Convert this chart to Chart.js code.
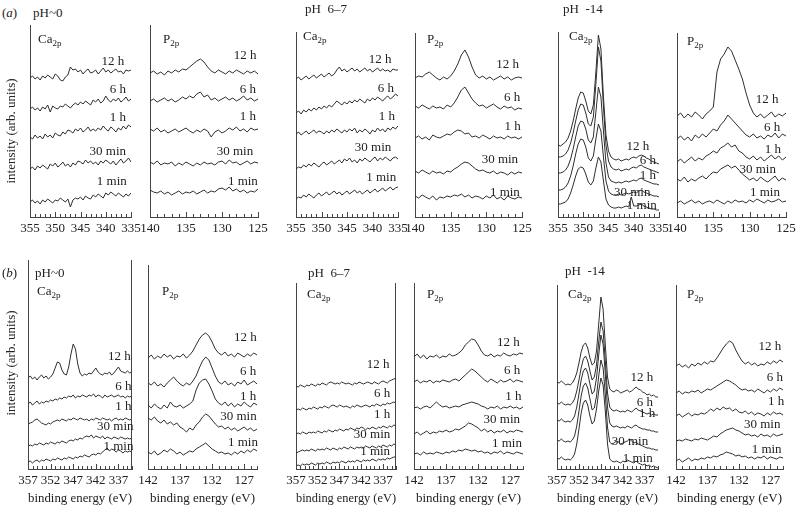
<!DOCTYPE html>
<html>
<head>
<meta charset="utf-8">
<script src="https://cdn.jsdelivr.net/npm/chart.js@4"></script>
<style>
  body { margin: 0; background: #fff; width: 796px; height: 511px; position: relative; overflow: hidden;
         font-family: 'Liberation Serif', serif; color: #222; }
  canvas { position: absolute; }
  .t { position: absolute; white-space: nowrap; font-size: 13px; line-height: 1; transform: translateY(-50%); }
  .t sub { font-size: 9px; vertical-align: -3px; }
  .yl { position: absolute; white-space: nowrap; font-size: 13px; line-height: 1; transform: translate(-50%, -50%) rotate(-90deg); }
</style>
</head>
<body>
<script>
// --- Data ---
const times = ['12 h', '6 h', '1 h', '30 min', '1 min'];

// binding energies (eV) of the sampled points
const caTopE = [355,354.5,354,353.5,353,352.5,352,351.5,351,350.5,350,349.5,349,348.5,348,347.5,347,346.5,346,345.5,345,344.5,344,343.5,343,342.5,342,341.5,341,340.5,340,339.5,339,338.5,338,337.5,337,336.5,336,335.5,335];
const pTopE  = [140,139.5,139,138.5,138,137.5,137,136.5,136,135.5,135,134.5,134,133.5,133,132.5,132,131.5,131,130.5,130,129.5,129,128.5,128,127.5,127,126.5,126,125.5,125];
const caBotE = [357,356.5,356,355.5,355,354.5,354,353.5,353,352.5,352,351.5,351,350.5,350,349.5,349,348.5,348,347.5,347,346.5,346,345.5,345,344.5,344,343.5,343,342.5,342,341.5,341,340.5,340,339.5,339,338.5,338,337.5,337,336.5,336,335.5,335,334.5,334];
const pBotE  = [142,141.5,141,140.5,140,139.5,139,138.5,138,137.5,137,136.5,136,135.5,135,134.5,134,133.5,133,132.5,132,131.5,131,130.5,130,129.5,129,128.5,128,127.5,127,126.5,126,125.5,125];

const caTopTicks = [355, 350, 345, 340, 335];
const pTopTicks  = [140, 135, 130, 125];
const caBotTicks = [357, 352, 347, 342, 337];
const pBotTicks  = [142, 137, 132, 127];

// intensities (arb. units), series order: 12 h, 6 h, 1 h, 30 min, 1 min
const caA0 = [
  [139,141,138,140,137,141,139,142,140,138,143,141,137,136,140,142,150,147,148,145,147,143,146,148,144,145,147,143,146,149,145,147,144,146,148,145,146,143,147,146,147],
  [108,110,107,109,106,110,108,112,105,111,109,108,111,110,113,111,109,112,114,112,115,113,116,114,112,117,115,118,114,116,121,117,115,118,116,119,115,117,120,116,118],
  [80,78,82,79,81,78,83,80,82,79,84,82,81,85,83,87,86,84,88,86,89,85,87,90,86,88,86,89,87,91,88,86,90,88,85,89,87,91,88,92,90],
  [48,50,47,51,49,52,50,48,53,51,54,50,52,55,51,53,50,54,52,56,55,53,57,54,56,53,55,52,56,54,57,55,53,56,52,55,58,54,56,59,55],
  [15,17,14,16,13,17,15,18,16,14,17,16,19,17,15,18,10,17,19,18,20,17,21,19,18,22,20,23,21,19,24,22,25,23,21,24,22,20,23,21,24]
];
const pA0 = [
  [144,146,143,145,142,146,144,147,145,148,147,150,153,156,158,155,150,146,144,147,145,143,146,144,147,145,143,146,144,146,143],
  [116,118,115,117,119,116,118,115,117,120,118,121,119,123,125,120,122,117,119,116,118,120,117,119,116,118,121,117,119,116,118],
  [88,86,89,85,87,84,86,88,85,87,89,86,84,87,85,88,86,80,85,87,84,86,89,87,90,86,88,85,89,87,88],
  [55,53,56,52,54,53,55,51,54,52,55,53,51,54,52,55,53,54,52,55,56,53,57,54,55,52,54,56,53,55,54],
  [27,25,24,26,23,25,22,24,26,23,25,24,26,23,25,27,24,26,25,28,29,27,30,26,28,25,27,24,26,25,28]
];
const caA7 = [
  [138,140,137,139,141,138,140,142,139,141,143,140,142,144,141,143,147,150,146,148,145,147,149,146,148,145,147,149,146,148,145,147,149,146,148,146,147,145,148,147,147],
  [104,106,103,107,105,108,106,109,107,110,108,111,109,112,110,113,116,114,112,115,113,116,114,117,115,118,116,114,118,116,119,117,120,118,116,119,121,118,120,123,121],
  [83,85,82,84,86,83,85,87,84,86,85,83,86,84,87,85,88,86,84,87,85,88,86,89,84,87,85,88,86,83,87,85,89,86,88,85,89,87,90,88,91],
  [48,50,49,52,50,53,51,54,52,50,53,55,52,54,56,53,55,57,54,58,56,59,55,57,54,58,56,59,57,55,58,60,56,59,57,60,58,56,59,60,58],
  [18,20,19,22,20,23,21,19,22,24,21,23,25,22,24,26,23,25,22,24,26,23,25,27,24,26,23,25,27,24,26,28,25,27,29,26,28,30,27,29,30]
];
const pA7 = [
  [139,141,140,143,145,142,139,137,140,138,141,146,153,162,167,160,150,142,139,141,138,140,137,139,141,138,140,137,139,140,139],
  [111,109,112,110,108,111,109,110,108,112,110,114,120,127,130,124,118,114,111,112,109,111,113,110,108,111,109,110,107,109,108],
  [79,81,78,80,77,82,80,79,81,83,82,85,87,86,83,84,80,81,79,82,80,78,81,79,80,78,81,79,80,78,80],
  [46,44,47,45,43,46,44,45,43,46,45,48,50,53,55,54,51,48,46,47,45,44,46,43,45,44,42,45,43,45,44],
  [21,19,22,20,18,21,17,20,19,21,20,22,21,23,20,22,19,21,20,18,21,19,22,18,20,17,21,19,18,20,19]
];
const caA14 = [
  [72,71,73,75,79,86,96,108,119,125,124,116,106,103,112,145,182,168,120,82,66,60,58,57,58,56,57,58,57,59,60,59,61,62,61,59,58,56,55,54,53],
  [60,60,61,63,67,74,84,96,107,113,112,104,93,91,100,133,170,156,110,72,56,50,48,47,48,46,47,48,47,49,50,49,51,52,50,49,48,47,46,45,44],
  [44,44,45,47,51,58,68,80,91,96,95,88,77,74,80,105,130,120,86,54,40,36,35,34,35,34,35,36,35,36,37,36,38,39,37,36,35,34,33,33,32],
  [27,27,28,30,34,41,51,63,73,78,77,70,59,56,61,78,93,86,60,36,26,23,22,22,23,22,23,24,23,24,25,24,26,27,25,24,23,22,21,21,20],
  [13,13,14,15,18,24,32,41,48,50,49,43,35,32,36,49,60,55,36,18,12,10,9,9,10,9,10,11,10,20,11,11,12,13,11,10,9,8,8,7,7]
];
const pA14 = [
  [101,104,99,103,100,105,102,98,103,106,110,145,158,163,170,166,157,148,138,124,112,104,100,103,99,102,105,100,103,101,104],
  [78,81,77,80,76,82,79,83,80,84,88,86,92,96,102,98,94,90,86,82,80,83,79,81,78,82,80,84,79,83,81],
  [55,58,54,57,60,56,59,57,61,63,66,64,69,71,74,70,72,66,64,60,58,61,57,60,56,59,62,58,61,57,60],
  [38,36,40,35,38,36,39,41,38,42,45,44,48,50,52,49,51,47,43,40,37,39,36,40,37,35,38,41,36,39,37],
  [14,16,13,15,17,14,16,13,15,16,14,17,15,13,16,14,17,15,16,14,17,15,18,16,14,17,15,16,18,15,16]
];
const caB0 = [
  [91,93,90,92,89,92,94,91,93,90,92,95,101,107,106,99,95,94,102,115,125,120,105,96,93,95,94,96,95,98,101,97,95,94,96,95,97,94,96,99,102,98,97,96,98,96,97],
  [65,67,64,66,68,65,67,66,68,67,69,68,70,69,71,70,72,71,73,72,74,71,73,72,74,73,72,74,73,75,72,74,73,71,74,72,73,74,72,73,74,72,73,71,73,72,73],
  [45,46,47,49,50,48,46,45,44,46,45,47,48,49,48,50,49,48,50,49,51,50,49,51,50,49,50,48,50,49,51,50,49,51,50,49,50,48,50,51,49,50,49,51,50,49,50],
  [23,24,23,25,24,26,25,24,26,25,27,26,25,27,26,28,27,26,28,29,28,30,29,31,30,32,33,32,34,31,33,32,31,33,30,32,31,30,32,31,30,32,31,30,31,30,31],
  [7,8,6,8,9,7,9,8,10,9,8,10,9,11,10,9,11,10,12,11,10,12,11,13,12,14,13,12,14,15,14,16,15,17,19,21,18,20,19,17,19,18,16,18,17,18,17]
];
const pB0 = [
  [111,114,110,113,111,115,112,114,110,113,112,115,111,114,118,124,130,134,136,133,127,120,116,114,117,113,115,112,116,114,112,115,113,116,114],
  [86,84,87,83,85,82,86,89,92,88,85,83,86,84,88,93,101,108,112,109,101,93,87,85,88,84,86,83,87,85,89,84,86,88,85],
  [64,61,65,62,60,64,61,67,63,62,64,61,63,65,68,79,86,89,90,85,78,70,66,64,67,63,66,62,65,63,67,64,62,66,64],
  [51,49,52,48,46,49,45,47,44,46,42,40,37,41,39,44,47,52,55,53,49,45,42,43,40,42,39,41,38,40,42,39,41,38,40],
  [17,15,18,14,16,19,17,20,18,15,17,14,16,18,17,20,22,24,26,23,20,18,16,17,15,16,14,17,15,18,16,19,17,20,18]
];
const caB7 = [
  [83,82,84,83,82,84,83,85,84,83,85,84,86,85,84,86,87,86,85,86,85,87,86,85,86,85,84,86,85,87,86,85,86,87,86,85,87,86,85,87,88,87,86,88,89,90,91],
  [59,60,59,61,60,59,61,60,62,61,60,62,61,63,62,61,63,64,63,62,64,63,62,63,62,61,63,62,64,63,62,63,64,63,62,64,63,65,64,63,65,64,66,65,66,67,66],
  [35,36,35,37,36,35,37,36,37,36,38,37,36,38,37,39,38,37,39,38,40,39,38,40,39,41,40,39,41,40,42,41,39,41,40,42,41,40,42,41,43,42,41,43,42,44,43],
  [16,17,18,19,18,19,18,20,19,18,20,19,20,19,21,20,19,21,20,19,21,20,22,21,20,22,21,20,22,21,22,21,23,22,21,23,22,21,23,22,24,23,22,24,23,25,24],
  [3,4,3,5,4,5,4,6,5,4,6,5,6,5,7,6,5,7,6,7,6,8,7,6,8,7,8,7,9,8,7,9,8,9,8,10,9,8,10,9,10,9,11,10,11,12,12]
];
const pB7 = [
  [112,115,111,114,110,113,112,114,111,113,112,115,113,114,116,119,124,127,130,129,124,118,114,113,115,112,114,113,116,114,113,115,114,116,115],
  [87,89,86,88,87,89,86,88,87,89,88,87,89,90,88,91,94,97,100,98,95,92,89,87,90,88,86,89,87,88,90,87,89,88,87],
  [61,62,60,62,63,61,64,67,64,62,63,61,62,63,62,64,65,66,67,66,65,63,62,60,62,61,63,60,62,61,63,61,62,60,62],
  [35,37,34,36,38,35,37,36,38,37,39,37,38,40,39,41,43,46,45,43,41,38,40,37,39,36,38,37,39,36,38,37,39,38,37],
  [15,16,14,17,15,16,15,17,16,15,17,16,18,17,19,18,20,19,18,19,17,18,16,17,15,17,16,18,15,17,16,15,17,16,15]
];
const caB14 = [
  [87,86,88,86,84,85,84,86,90,96,106,117,124,126,121,111,104,106,118,145,172,160,124,92,80,78,77,79,78,76,77,78,79,77,78,80,82,80,79,77,76,74,75,73,74,72,72],
  [66,65,67,65,64,65,64,66,70,78,89,101,110,113,108,98,89,92,104,127,147,138,108,76,62,59,58,59,58,57,58,57,59,58,57,59,61,59,58,57,56,55,56,54,55,54,54],
  [49,48,50,48,47,48,47,49,53,62,75,89,98,101,96,85,75,78,91,114,134,125,95,62,46,43,42,43,42,41,42,41,43,42,41,43,44,42,41,40,40,39,39,38,38,37,37],
  [29,28,30,28,27,28,27,29,33,43,58,73,83,86,81,70,59,61,73,93,109,101,75,42,27,25,26,28,27,25,26,27,28,30,28,26,27,25,24,23,22,21,21,20,20,19,19],
  [11,10,12,10,9,10,9,11,15,25,40,56,66,69,64,53,45,48,60,78,91,84,58,25,10,8,7,8,7,6,8,7,9,8,7,6,8,6,5,4,5,3,4,2,3,2,1]
];
const pB14 = [
  [103,105,102,104,101,105,103,106,104,107,105,108,107,111,116,121,125,128,126,119,113,108,105,107,104,106,103,105,104,107,105,108,106,109,107],
  [76,78,75,77,76,78,77,79,76,78,80,79,81,83,85,87,89,88,86,84,81,79,80,78,79,77,80,78,76,79,77,80,78,81,79],
  [53,55,52,54,56,53,55,54,56,55,57,60,58,61,59,62,60,61,58,60,57,56,58,55,57,54,56,55,53,56,54,57,55,56,54],
  [28,29,28,30,29,28,30,29,31,30,29,31,33,32,35,37,39,40,41,39,38,36,34,35,33,34,32,35,33,34,32,35,33,34,35],
  [8,10,7,9,11,8,10,9,11,10,12,11,13,12,14,15,17,16,15,13,14,12,13,11,12,10,12,11,13,10,12,11,10,12,11]
];

// --- Series label anchors (energy, intensity) ---
const labCaA0  = [[338.6,155],[337.6,127],[337.6,99],[339.6,65],[338.8,35]];
const labPA0   = [[126.8,161],[126.4,127],[126.4,100],[128.2,65],[127.1,35]];
const labCaA7  = [[338.5,157],[337.4,128],[337.2,100],[339.9,69],[338.3,39]];
const labPA7   = [[127.0,152],[126.4,119],[126.3,90],[128.1,57],[127.4,24]];
const labCaA14 = [[339.2,70],[337.2,56],[337.2,41],[340.3,24],[338.4,11]];
const labPA14  = [[127.6,117],[126.9,89],[126.8,67],[128.9,47],[127.9,24]];
const labCaB0  = [[336.8,112],[335.9,82],[335.9,62],[337.7,42],[337.0,22]];
const labPB0   = [[126.8,131],[126.4,97],[126.4,72],[127.9,52],[127.2,26]];
const labCaB7  = [[338.1,104],[337.2,75],[337.2,54],[339.5,34],[338.8,17]];
const labPB7   = [[127.3,126],[126.7,98],[126.5,72],[128.3,49],[127.5,25]];
const labCaB14 = [[337.7,91],[337.0,66],[336.5,55],[340.4,27],[338.6,10]];
const labPB14  = [[127.1,122],[126.3,91],[126.1,67],[128.3,44],[127.6,19]];

// --- Panel layout ---
const panels = [
  { L: 30,  R: 131, T: 25,  B: 217, min: 335, max: 355, e: caTopE, ticks: caTopTicks, s: caA0,  lab: labCaA0 },
  { L: 150, R: 258, T: 25,  B: 217, min: 125, max: 140, e: pTopE,  ticks: pTopTicks,  s: pA0,   lab: labPA0 },
  { L: 296, R: 398, T: 32,  B: 217, min: 335, max: 355, e: caTopE, ticks: caTopTicks, s: caA7,  lab: labCaA7 },
  { L: 415, R: 522, T: 33,  B: 217, min: 125, max: 140, e: pTopE,  ticks: pTopTicks,  s: pA7,   lab: labPA7 },
  { L: 558, R: 659, T: 32,  B: 217, min: 335, max: 355, e: caTopE, ticks: caTopTicks, s: caA14, lab: labCaA14 },
  { L: 677, R: 786, T: 33,  B: 217, min: 125, max: 140, e: pTopE,  ticks: pTopTicks,  s: pA14,  lab: labPA14 },
  { L: 28,  R: 132, T: 260, B: 469, min: 334, max: 357, e: caBotE, ticks: caBotTicks, s: caB0,  lab: labCaB0,  title: true, box: true },
  { L: 148, R: 257, T: 265, B: 469, min: 125, max: 142, e: pBotE,  ticks: pBotTicks,  s: pB0,   lab: labPB0,   title: true },
  { L: 296, R: 396, T: 283, B: 469, min: 334, max: 357, e: caBotE, ticks: caBotTicks, s: caB7,  lab: labCaB7,  title: true, box: true },
  { L: 414, R: 523, T: 283, B: 469, min: 125, max: 142, e: pBotE,  ticks: pBotTicks,  s: pB7,   lab: labPB7,   title: true },
  { L: 557, R: 658, T: 285, B: 469, min: 334, max: 357, e: caBotE, ticks: caBotTicks, s: caB14, lab: labCaB14, title: true },
  { L: 676, R: 783, T: 285, B: 469, min: 125, max: 142, e: pBotE,  ticks: pBotTicks,  s: pB14,  lab: labPB14,  title: true }
];

const FONT = 'Liberation Serif';
const INK  = '#222';
const AXIS = '#444';

// --- Inner ticks, right frame and series labels ---
function deco(p) {
  return {
    id: 'deco',
    afterDatasetsDraw(chart) {
      const { ctx, chartArea: a, scales: { x, y } } = chart;
      ctx.save();
      ctx.strokeStyle = AXIS;
      ctx.lineWidth = 1;
      ctx.beginPath();
      for (let v = Math.ceil(x.min); v <= x.max; v++) {
        const px = Math.round(x.getPixelForValue(v)) + 0.5;
        const len = p.ticks.includes(v) ? 5 : 3;
        ctx.moveTo(px, a.bottom);
        ctx.lineTo(px, a.bottom - len);
      }
      if (p.box) {
        const rx = Math.round(a.right) - 0.5;
        ctx.moveTo(rx, a.top);
        ctx.lineTo(rx, a.bottom);
      }
      ctx.stroke();
      ctx.fillStyle = INK;
      ctx.font = '13px "' + FONT + '"';
      ctx.textAlign = 'center';
      ctx.textBaseline = 'middle';
      p.lab.forEach((q, k) => ctx.fillText(times[k], x.getPixelForValue(q[0]), y.getPixelForValue(q[1])));
      ctx.restore();
    }
  };
}

// --- Charts ---
panels.forEach(p => {
  const xh = p.title ? 37 : 20;
  const cv = document.createElement('canvas');
  cv.width  = p.R - p.L + 32;
  cv.height = p.B - p.T + xh;
  cv.style.left = (p.L - 16) + 'px';
  cv.style.top  = p.T + 'px';
  document.body.appendChild(cv);

  new Chart(cv, {
    type: 'line',
    data: {
      datasets: p.s.map(arr => ({
        data: arr.map((v, k) => ({ x: p.e[k], y: v })),
        borderColor: '#2e2e2e',
        borderWidth: 1,
        pointRadius: 0,
        tension: 0,
        fill: false,
      }))
    },
    options: {
      responsive: false,
      animation: false,
      events: [],
      layout: { padding: { left: 16, right: 16, top: 0, bottom: 0 } },
      plugins: { legend: { display: false }, tooltip: { enabled: false } },
      scales: {
        x: {
          type: 'linear',
          reverse: true,
          min: p.min,
          max: p.max,
          afterBuildTicks: s => { s.ticks = p.ticks.map(v => ({ value: v })); },
          afterFit: s => { s.height = xh; },
          grid: { drawOnChartArea: false, drawTicks: false },
          border: { display: true, color: AXIS, width: 1 },
          ticks: { padding: 4, color: INK, autoSkip: false, maxRotation: 0, font: { family: FONT, size: 13 } },
          title: { display: !!p.title, text: 'binding energy (eV)', color: INK, padding: 0, font: { family: FONT, size: 13 } }
        },
        y: {
          min: 0,
          max: p.B - p.T,
          afterFit: s => { s.width = 0; },
          grid: { drawOnChartArea: false, drawTicks: false },
          border: { display: true, color: AXIS, width: 1 },
          ticks: { display: false }
        }
      }
    },
    plugins: [deco(p)]
  });
});

// --- Text ---
const texts = [
  ['(<i>a</i>)', 2, 12], ['pH~0', 33, 12], ['pH&nbsp;&nbsp;6–7', 305, 8], ['pH&nbsp;&nbsp;-14', 563, 8],
  ['Ca<sub>2p</sub>', 38, 40], ['P<sub>2p</sub>', 163, 40], ['Ca<sub>2p</sub>', 303, 37],
  ['P<sub>2p</sub>', 427, 40], ['Ca<sub>2p</sub>', 569, 37], ['P<sub>2p</sub>', 687, 42],
  ['(<i>b</i>)', 2, 272], ['pH~0', 35, 272], ['pH&nbsp;&nbsp;6–7', 308, 272], ['pH&nbsp;&nbsp;-14', 565, 270],
  ['Ca<sub>2p</sub>', 37, 292], ['P<sub>2p</sub>', 162, 292], ['Ca<sub>2p</sub>', 307, 295],
  ['P<sub>2p</sub>', 427, 295], ['Ca<sub>2p</sub>', 568, 295], ['P<sub>2p</sub>', 687, 295]
];
texts.forEach(([h, x, y]) => {
  const d = document.createElement('div');
  d.className = 't';
  d.innerHTML = h;
  d.style.left = x + 'px';
  d.style.top  = y + 'px';
  document.body.appendChild(d);
});
[131, 363].forEach(y => {
  const d = document.createElement('div');
  d.className = 'yl';
  d.textContent = 'intensity (arb. units)';
  d.style.left = '10px';
  d.style.top  = y + 'px';
  document.body.appendChild(d);
});
</script>
</body>
</html>
